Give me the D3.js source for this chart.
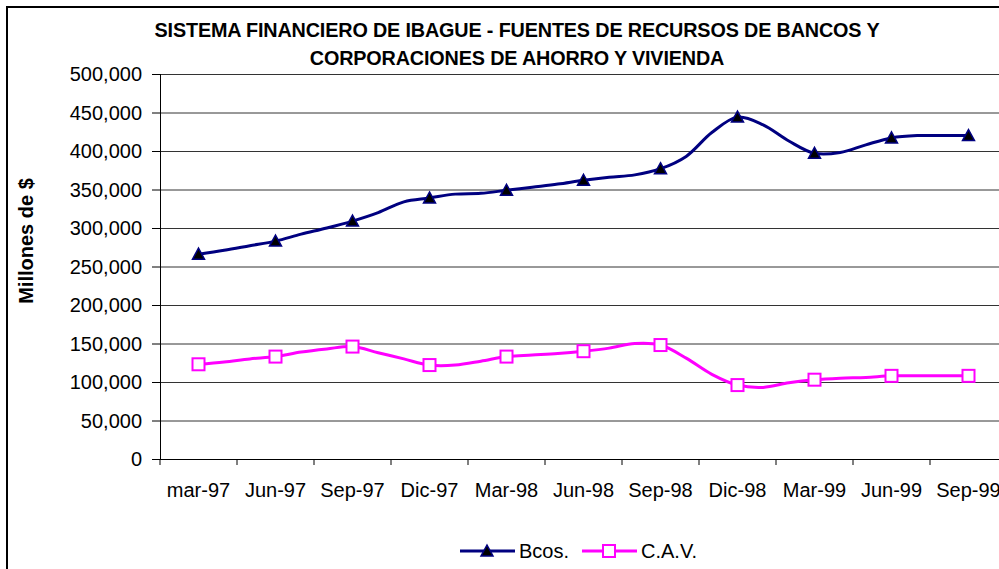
<!DOCTYPE html>
<html>
<head>
<meta charset="utf-8">
<script src="https://cdn.jsdelivr.net/npm/d3@7"></script>
<style>
  body { margin: 0; background: #fff; }
  svg { display: block; font-family: "Liberation Sans", Arial, sans-serif; }
</style>
</head>
<body>
<svg id="chart" width="999" height="569"></svg>
<script>
// quarterly tick labels, data is monthly (mar-97 .. sep-99)
const quarterLabels = ['mar-97', 'Jun-97', 'Sep-97', 'Dic-97', 'Mar-98', 'Jun-98', 'Sep-98', 'Dic-98', 'Mar-99', 'Jun-99', 'Sep-99']

const bcos = [
  266000, 271000, 277000, 283000, 292000, 300000, 309000, 320000, 334000, 339000, 344000,
  345000, 349000, 353000, 357000, 362000, 366000, 369000, 377000, 393000, 424000, 444000,
  434000, 413000, 397000, 398000, 408000, 417000, 420000, 420000, 420000
]

const cav = [
  123000, 126000, 130000, 133000, 139000, 143000, 146000, 138000, 130000, 122000, 122000,
  127000, 133000, 135000, 137000, 140000, 144000, 150000, 148000, 131000, 110000, 96000,
  93000, 99000, 103000, 105000, 106000, 108000, 108000, 108000, 108000
]

const yTicks = [0, 50000, 100000, 150000, 200000, 250000, 300000, 350000, 400000, 450000, 500000]

const titleLines = ['SISTEMA FINANCIERO DE IBAGUE - FUENTES DE RECURSOS DE BANCOS Y', 'CORPORACIONES DE AHORRO Y VIVIENDA']

//---------------------------------------------------------------

const svg = d3.select('#chart')

const margin = {left: 160, top: 74, right: 1007, bottom: 459}

const x = d3.scaleLinear().domain([-1.5, 31.5]).range([margin.left, margin.right])
const y = d3.scaleLinear().domain([0, 500000]).range([margin.bottom, margin.top])

// outer border (cropped on right and bottom like the original)
svg.append('rect')
  .attr('x', 7).attr('y', 7)
  .attr('width', 1100).attr('height', 700)
  .attr('fill', 'none').attr('stroke', '#000').attr('stroke-width', 2)

// title
svg.append('g').selectAll('text')
  .data(titleLines)
  .join('text')
  .attr('x', 517)
  .attr('y', (d, i) => 37 + i * 28)
  .attr('text-anchor', 'middle')
  .attr('font-size', 19.8)
  .attr('font-weight', 'bold')
  .attr('letter-spacing', -0.15)
  .text(d => d)

// gridlines
svg.append('g').selectAll('line')
  .data(yTicks.filter(d => d > 0))
  .join('line')
  .attr('x1', margin.left).attr('x2', margin.right)
  .attr('y1', d => y(d) + 0.5).attr('y2', d => y(d) + 0.5)
  .attr('stroke', '#333').attr('stroke-width', 1)

// y axis
const yAxis = svg.append('g')
yAxis.append('line')
  .attr('x1', margin.left + 0.5).attr('x2', margin.left + 0.5)
  .attr('y1', margin.top).attr('y2', margin.bottom)
  .attr('stroke', '#000')
yAxis.selectAll('.tick')
  .data(yTicks)
  .join('line')
  .attr('x1', margin.left - 8).attr('x2', margin.left)
  .attr('y1', d => y(d) + 0.5).attr('y2', d => y(d) + 0.5)
  .attr('stroke', '#000')
yAxis.selectAll('text')
  .data(yTicks)
  .join('text')
  .attr('x', 142)
  .attr('y', d => y(d) + 7)
  .attr('text-anchor', 'end')
  .attr('font-size', 20)
  .text(d => d3.format(',')(d))

svg.append('text')
  .attr('transform', 'translate(33,241) rotate(-90)')
  .attr('text-anchor', 'middle')
  .attr('font-size', 20)
  .attr('font-weight', 'bold')
  .text('Millones de $')

// x axis
const xAxis = svg.append('g')
xAxis.append('line')
  .attr('x1', margin.left).attr('x2', margin.right)
  .attr('y1', margin.bottom + 0.5).attr('y2', margin.bottom + 0.5)
  .attr('stroke', '#000')
xAxis.selectAll('line.tick')
  .data(d3.range(quarterLabels.length + 1))
  .join('line')
  .attr('class', 'tick')
  .attr('x1', d => x(d * 3 - 1.5)).attr('x2', d => x(d * 3 - 1.5))
  .attr('y1', margin.bottom).attr('y2', margin.bottom + 6)
  .attr('stroke', '#000')
xAxis.selectAll('text')
  .data(quarterLabels)
  .join('text')
  .attr('x', (d, i) => x(i * 3))
  .attr('y', 497)
  .attr('text-anchor', 'middle')
  .attr('font-size', 20)
  .text(d => d)

// series
const line = d3.line()
  .x((d, i) => x(i))
  .y(d => y(d))
  .curve(d3.curveCatmullRom.alpha(0.5))

const series = [
  {name: 'Bcos.', values: bcos, color: '#000080', marker: 'triangle'},
  {name: 'C.A.V.', values: cav, color: '#FF00FF', marker: 'square'}
]

const drawMarker = (g, type, color) => {
  if (type === 'triangle') {
    g.append('path')
      .attr('d', 'M0,-6 L6,5 L-6,5 Z')
      .attr('fill', '#000').attr('stroke', color).attr('stroke-width', 1.5)
  } else {
    g.append('rect')
      .attr('x', -6).attr('y', -6).attr('width', 12).attr('height', 12)
      .attr('fill', '#fff').attr('stroke', color).attr('stroke-width', 2)
  }
}

series.forEach(s => {
  svg.append('path')
    .datum(s.values)
    .attr('d', line)
    .attr('fill', 'none')
    .attr('stroke', s.color)
    .attr('stroke-width', 3)
    .attr('stroke-linejoin', 'round')

  // markers only on the quarter months
  s.values.forEach((v, i) => {
    if (i % 3 !== 0) return
    const g = svg.append('g').attr('transform', `translate(${x(i)},${y(v)})`)
    drawMarker(g, s.marker, s.color)
  })
})

// legend
const legendPos = [460, 582]
series.forEach((s, i) => {
  const g = svg.append('g').attr('transform', `translate(${legendPos[i]},551)`)
  g.append('line')
    .attr('x1', 0).attr('x2', 55)
    .attr('stroke', s.color).attr('stroke-width', 3)
  const m = g.append('g').attr('transform', 'translate(27,0)')
  drawMarker(m, s.marker, s.color)
  g.append('text')
    .attr('x', 59)
    .attr('y', 7)
    .attr('font-size', 20)
    .text(s.name)
})
</script>
</body>
</html>
